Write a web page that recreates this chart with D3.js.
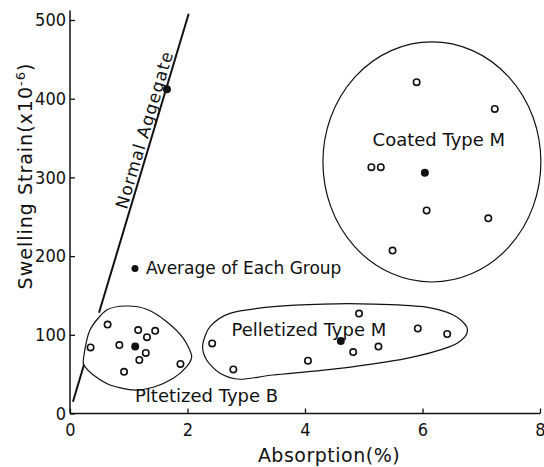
<!DOCTYPE html>
<html>
<head>
<meta charset="utf-8">
<script src="https://cdn.jsdelivr.net/npm/d3@7"></script>
<style>
  html, body { margin: 0; padding: 0; background: #fff; }
  svg text { font-family: "DejaVu Sans", sans-serif; fill: #111; }
  svg .tick text { font-family: "DejaVu Sans Condensed", "DejaVu Sans", sans-serif; }
</style>
</head>
<body>
<svg id="chart" width="544" height="467"></svg>
<script>
// Absorption (%) vs swelling strain (x10^-6) for lightweight aggregate groups
const xTicks = [0, 2, 4, 6, 8];
const yTicks = [0, 100, 200, 300, 400, 500];

// Open circles: individual specimens
const typeB = [
  [0.35, 84], [0.64, 113], [0.84, 87], [0.92, 53], [1.16, 106], [1.31, 97],
  [1.45, 105], [1.29, 77], [1.18, 68], [1.88, 63]
];
const typeM = [
  [2.42, 89], [2.78, 56], [4.05, 67], [4.82, 78], [4.92, 127], [5.25, 85],
  [5.92, 108], [6.42, 101]
];
const coatedM = [
  [5.90, 421], [7.23, 387], [5.13, 313], [5.29, 313], [6.07, 258],
  [7.12, 248], [5.49, 207]
];

// Filled dots: group averages
const averages = [[1.11, 85], [4.61, 92], [6.04, 306], [1.65, 412]];

// Normal aggregate trend line, broken where it meets the Type B outline
const normalLineLow = [[0.05, 15], [0.238, 62]];
const normalLineHigh = [[0.494, 128], [2.02, 508]];

// Group outlines
const outlineB = [
  [0.226, 68], [0.340, 106], [0.625, 131.5], [0.965, 136.6], [1.306, 132.4],
  [1.646, 116.6], [1.929, 95.5], [2.071, 73.1], [1.986, 59.5], [1.758, 44.7],
  [1.418, 33.3], [1.077, 29.9], [0.681, 36.2], [0.397, 48.9], [0.255, 59.5]
];
const outlineM = [
  [2.259, 87.0], [2.383, 110.3], [2.723, 127.3], [3.460, 135.7], [4.311, 139.1],
  [5.162, 139.1], [6.014, 135.7], [6.524, 125.2], [6.752, 110.3], [6.723, 97.6],
  [6.468, 84.9], [5.731, 70.1], [4.596, 57.4], [3.460, 48.9], [2.894, 43.5],
  [2.553, 51.1], [2.326, 68.0]
];
const coatedCircle = { cx: 6.16, cy: 319.6, rx: 1.855, ry: 152.5 };

const labels = [
  { text: "Coated Type M", x: 5.15, y: 340 },
  { text: "Pelletized Type M", x: 2.75, y: 98.5 },
  { text: "Pltetized Type B", x: 1.106, y: 15 }
];
const legendDot = [1.106, 184.4];
const legendText = "Average of Each Group";
const lineLabel = { text: "Normal Aggegate", x: 0.965, y: 258.6 };

const svg = d3.select("#chart");
const x = d3.scaleLinear().domain([0, 8]).range([70, 540]);
const y = d3.scaleLinear().domain([0, 500]).range([413.5, 20]);

// Axes with inward ticks
const gx = svg.append("g").attr("transform", `translate(0,${y(0)})`)
  .call(d3.axisBottom(x).tickValues(xTicks).tickSize(-5).tickSizeOuter(0).tickPadding(10));
const gy = svg.append("g").attr("transform", `translate(${x(0)},0)`)
  .call(d3.axisLeft(y).tickValues(yTicks).tickSize(-5).tickSizeOuter(0).tickPadding(4));
[gx, gy].forEach(g => {
  g.attr("font-family", null).attr("font-size", null);
  g.select(".domain").remove();
  g.selectAll(".tick line").attr("stroke", "#111").attr("stroke-width", 1.3);
  g.selectAll(".tick text").attr("font-size", 18).attr("fill", "#111");
});
svg.append("line").attr("x1", x(0)).attr("x2", x(8)).attr("y1", y(0)).attr("y2", y(0))
  .attr("stroke", "#111").attr("stroke-width", 1.5);
svg.append("line").attr("x1", x(0)).attr("x2", x(0)).attr("y1", y(0)).attr("y2", y(512))
  .attr("stroke", "#111").attr("stroke-width", 1.5);

svg.append("text").attr("x", 329).attr("y", 462)
  .attr("text-anchor", "middle").attr("font-size", 19).attr("letter-spacing", 0.5)
  .text("Absorption(%)");
const yTitle = svg.append("text").attr("transform", "translate(32,176) rotate(-90)")
  .attr("text-anchor", "middle").attr("font-size", 19).attr("letter-spacing", 1);
yTitle.append("tspan").text("Swelling Strain(x10");
yTitle.append("tspan").attr("dy", -7).attr("font-size", 13).text("-6");
yTitle.append("tspan").attr("dy", 7).text(")");

// Outlines
const closed = d3.line().x(d => x(d[0])).y(d => y(d[1])).curve(d3.curveCardinalClosed.tension(0.2));
[outlineB, outlineM].forEach(o => {
  svg.append("path").attr("d", closed(o)).attr("fill", "none")
    .attr("stroke", "#111").attr("stroke-width", 1.2);
});
svg.append("ellipse")
  .attr("cx", x(coatedCircle.cx)).attr("cy", y(coatedCircle.cy))
  .attr("rx", x(coatedCircle.rx) - x(0)).attr("ry", y(0) - y(coatedCircle.ry))
  .attr("fill", "none").attr("stroke", "#111").attr("stroke-width", 1.2);

// Normal aggregate line
const seg = d3.line().x(d => x(d[0])).y(d => y(d[1]));
[normalLineLow, normalLineHigh].forEach(s => {
  svg.append("path").attr("d", seg(s)).attr("fill", "none")
    .attr("stroke", "#111").attr("stroke-width", 2);
});

// Specimen markers
svg.append("g").selectAll("circle").data([...typeB, ...typeM, ...coatedM]).join("circle")
  .attr("cx", d => x(d[0])).attr("cy", d => y(d[1])).attr("r", 3.2)
  .attr("fill", "#fff").attr("stroke", "#111").attr("stroke-width", 1.6);
svg.append("g").selectAll("circle").data(averages).join("circle")
  .attr("cx", d => x(d[0])).attr("cy", d => y(d[1])).attr("r", 4)
  .attr("fill", "#111");

// Group labels
svg.append("g").selectAll("text").data(labels).join("text")
  .attr("x", d => x(d.x)).attr("y", d => y(d.y)).attr("font-size", 18).text(d => d.text);

// Legend
svg.append("circle").attr("cx", x(legendDot[0])).attr("cy", y(legendDot[1])).attr("r", 3.5).attr("fill", "#111");
svg.append("text").attr("x", x(legendDot[0]) + 11).attr("y", y(legendDot[1]) + 6)
  .attr("font-size", 17).text(legendText);

// Line label
const ang = Math.atan2(y(508) - y(15), x(2.02) - x(0.05)) * 180 / Math.PI;
svg.append("text")
  .attr("transform", `translate(${x(lineLabel.x)},${y(lineLabel.y)}) rotate(${ang})`)
  .attr("font-size", 17).attr("letter-spacing", 1).text(lineLabel.text);
</script>
</body>
</html>
